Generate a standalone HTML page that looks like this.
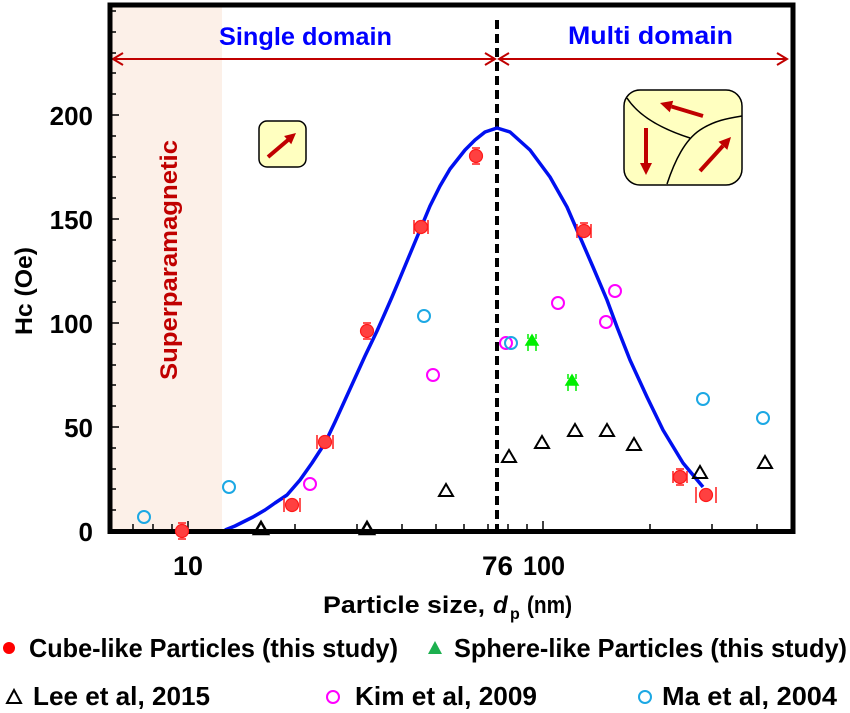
<!DOCTYPE html>
<html><head><meta charset="utf-8"><style>
html,body{margin:0;padding:0;background:#fff;}
svg{display:block;}
text{font-family:"Liberation Sans",Arial,sans-serif;font-weight:bold;}
</style></head><body>
<svg width="850" height="713" viewBox="0 0 850 713" xmlns="http://www.w3.org/2000/svg">
<rect x="0" y="0" width="850" height="713" fill="#fff"/>
<!-- superparamagnetic shading -->
<rect x="112" y="7" width="110" height="522" fill="#fcf0e8"/>
<text transform="translate(177,380) rotate(-90)" font-size="24" fill="#c00000" textLength="240" lengthAdjust="spacingAndGlyphs">Superparamagnetic</text>

<!-- region labels -->
<text x="219" y="45" font-size="25" fill="#0000ff" textLength="173" lengthAdjust="spacingAndGlyphs">Single domain</text>
<text x="568" y="44" font-size="25" fill="#0000ff" textLength="165" lengthAdjust="spacingAndGlyphs">Multi domain</text>

<!-- arrows -->
<g stroke="#c00000" stroke-width="2" fill="none">
<line x1="113" y1="59" x2="495" y2="59"/>
<polyline points="123,53 113,59 123,65"/>
<polyline points="485,53 495,59 485,65"/>
<line x1="499" y1="59" x2="787" y2="59"/>
<polyline points="509,53 499,59 509,65"/>
<polyline points="777,53 787,59 777,65"/>
</g>

<!-- dashed line -->
<line x1="497" y1="20" x2="497" y2="529" stroke="#000" stroke-width="4" stroke-dasharray="9,5"/>

<!-- small inset -->
<rect x="259" y="121" width="47" height="46" rx="8" fill="#ffffc0" stroke="#000" stroke-width="1.5"/>
<line x1="268" y1="157" x2="288" y2="140" stroke="#c00000" stroke-width="4"/>
<polygon points="296,133 291.2,144.3 284.1,136" fill="#c00000"/>

<!-- big inset -->
<rect x="624" y="90" width="118" height="95" rx="16" fill="#ffffc0" stroke="#000" stroke-width="1.5"/>
<path d="M627,98 C640,118 665,130 690,138" stroke="#000" stroke-width="1.5" fill="none"/>
<path d="M667,184 C675,160 685,140 700,130 C715,120 730,118 742,116" stroke="#000" stroke-width="1.5" fill="none"/>
<line x1="703" y1="116" x2="671.5" y2="106.5" stroke="#c00000" stroke-width="4"/>
<polygon points="660,103 673.2,100.8 669.8,112.2" fill="#c00000"/>
<line x1="646" y1="128" x2="646" y2="163" stroke="#c00000" stroke-width="4"/>
<polygon points="646,175 640,163 652,163" fill="#c00000"/>
<line x1="700" y1="171" x2="722.9" y2="145.9" stroke="#c00000" stroke-width="4"/>
<polygon points="731,137 727.3,149.9 718.5,141.8" fill="#c00000"/>

<!-- fit curve -->
<polyline fill="none" stroke="#0010f0" stroke-width="3.5" stroke-linejoin="round" points="225,530 235,526 245,521 253,517 265,510 275,503 287,495 300,480 312,463 325,443 335,422 345,400 355,378 365,356 377,331 385,313 392,297 400,278 410,254 420,230 430,206 440,186 450,169 465,150 475,140 485,132 497,128 510,132 530,150 550,177 567,207 580,237 593,267 607,300 617,327 630,360 647,397 663,430 683,463 703,487"/>

<!-- frame -->
<rect x="110" y="5" width="683" height="526.5" fill="none" stroke="#000" stroke-width="5"/>

<!-- y ticks -->
<g stroke="#000" stroke-width="1.5">
<line x1="112" y1="427" x2="119" y2="427"/>
<line x1="112" y1="323" x2="119" y2="323"/>
<line x1="112" y1="219" x2="119" y2="219"/>
<line x1="112" y1="115" x2="119" y2="115"/>
<line x1="112" y1="510" x2="116" y2="510"/>
<line x1="112" y1="489" x2="116" y2="489"/>
<line x1="112" y1="469" x2="116" y2="469"/>
<line x1="112" y1="448" x2="116" y2="448"/>
<line x1="112" y1="406" x2="116" y2="406"/>
<line x1="112" y1="385" x2="116" y2="385"/>
<line x1="112" y1="365" x2="116" y2="365"/>
<line x1="112" y1="344" x2="116" y2="344"/>
<line x1="112" y1="302" x2="116" y2="302"/>
<line x1="112" y1="281" x2="116" y2="281"/>
<line x1="112" y1="261" x2="116" y2="261"/>
<line x1="112" y1="240" x2="116" y2="240"/>
<line x1="112" y1="198" x2="116" y2="198"/>
<line x1="112" y1="177" x2="116" y2="177"/>
<line x1="112" y1="157" x2="116" y2="157"/>
<line x1="112" y1="136" x2="116" y2="136"/>
<line x1="112" y1="94" x2="116" y2="94"/>
<line x1="112" y1="73" x2="116" y2="73"/>
<line x1="112" y1="53" x2="116" y2="53"/>
<line x1="112" y1="32" x2="116" y2="32"/>
<line x1="112" y1="11" x2="116" y2="11"/>
</g>
<!-- x ticks -->
<g stroke="#000" stroke-width="1.5">
<line x1="133" y1="529" x2="133" y2="524"/>
<line x1="153" y1="529" x2="153" y2="524"/>
<line x1="172" y1="529" x2="172" y2="524"/>
<line x1="188" y1="529" x2="188" y2="521"/>
<line x1="295" y1="529" x2="295" y2="524"/>
<line x1="357" y1="529" x2="357" y2="524"/>
<line x1="402" y1="529" x2="402" y2="524"/>
<line x1="436" y1="529" x2="436" y2="524"/>
<line x1="464" y1="529" x2="464" y2="524"/>
<line x1="488" y1="529" x2="488" y2="524"/>
<line x1="508" y1="529" x2="508" y2="524"/>
<line x1="527" y1="529" x2="527" y2="524"/>
<line x1="543" y1="529" x2="543" y2="521"/>
<line x1="650" y1="529" x2="650" y2="524"/>
<line x1="712" y1="529" x2="712" y2="524"/>
<line x1="757" y1="529" x2="757" y2="524"/>
</g>

<!-- y labels -->
<g font-size="26" text-anchor="end" fill="#000">
<text x="93" y="541">0</text>
<text x="93" y="437">50</text>
<text x="93" y="333">100</text>
<text x="93" y="229">150</text>
<text x="93" y="125">200</text>
</g>
<text transform="translate(32,335) rotate(-90)" font-size="24" textLength="88" lengthAdjust="spacingAndGlyphs">Hc (Oe)</text>

<!-- x labels -->
<g font-size="27" fill="#000">
<text x="173" y="575" textLength="30" lengthAdjust="spacingAndGlyphs">10</text>
<text x="482" y="575" textLength="31" lengthAdjust="spacingAndGlyphs">76</text>
<text x="523" y="575" textLength="42" lengthAdjust="spacingAndGlyphs">100</text>
</g>
<g font-size="24" fill="#000">
<text x="323" y="613" textLength="162" lengthAdjust="spacingAndGlyphs">Particle size,</text>
<text x="493" y="613" font-style="italic">d</text>
<text x="510" y="619" font-size="16">p</text>
<text x="527" y="613" textLength="45" lengthAdjust="spacingAndGlyphs">(nm)</text>
</g>

<!-- Lee triangles -->
<g fill="none" stroke="#000" stroke-width="2">
<polygon points="261,522 254,534 268,534" stroke-width="2.5"/>
<polygon points="367,522 360,534 374,534" stroke-width="2.5"/>
<polygon points="446,484 439,496 453,496"/>
<polygon points="509,450 502,462 516,462"/>
<polygon points="542,436 535,448 549,448"/>
<polygon points="575,424 568,436 582,436"/>
<polygon points="607,424 600,436 614,436"/>
<polygon points="634,438 627,450 641,450"/>
<polygon points="700,466 693,478 707,478"/>
<polygon points="765,456 758,468 772,468"/>
</g>

<!-- Kim circles -->
<g fill="none" stroke="#ff00ff" stroke-width="2">
<circle cx="310" cy="484" r="6"/>
<circle cx="433" cy="375" r="6"/>
<circle cx="506" cy="343" r="6"/>
<circle cx="558" cy="303" r="6"/>
<circle cx="606" cy="322" r="6"/>
<circle cx="615" cy="291" r="6"/>
</g>
<!-- Ma circles -->
<g fill="none" stroke="#1ca8e4" stroke-width="2">
<circle cx="144" cy="517" r="6"/>
<circle cx="229" cy="487" r="6"/>
<circle cx="424" cy="316" r="6"/>
<circle cx="511" cy="343" r="6"/>
<circle cx="703" cy="399" r="6"/>
<circle cx="763" cy="418" r="6"/>
</g>

<!-- Sphere-like green -->
<g fill="#00ee00" stroke="#00ee00" stroke-width="1.5">
<polygon points="532,335 526,345 538,345"/>
<line x1="528" y1="345" x2="528" y2="351"/><line x1="536" y1="345" x2="536" y2="351"/>
<line x1="528" y1="334" x2="528" y2="339"/><line x1="536" y1="334" x2="536" y2="339"/>
<polygon points="572,375 566,385 578,385"/>
<line x1="568" y1="385" x2="568" y2="391"/><line x1="576" y1="385" x2="576" y2="391"/>
<line x1="568" y1="374" x2="568" y2="379"/><line x1="576" y1="374" x2="576" y2="379"/>
</g>

<!-- Cube-like red -->
<g fill="#ff4040" stroke="#ff1a1a" stroke-width="1.2">
<circle cx="182" cy="531" r="6.5"/>
<circle cx="292" cy="505" r="6.5"/>
<circle cx="325" cy="442" r="6.5"/>
<circle cx="367" cy="331" r="6.5"/>
<circle cx="421" cy="227" r="6.5"/>
<circle cx="476" cy="156" r="6.5"/>
<circle cx="584" cy="231" r="6.5"/>
<circle cx="680" cy="477" r="6.5"/>
<circle cx="706" cy="495" r="6.5"/>
</g>
<g stroke="#ff1a1a" stroke-width="1.5" fill="none">
<path d="M178,523h8M178,539h8"/>
<path d="M284,498v14M300,498v14"/>
<path d="M317,435v14M333,435v14"/>
<path d="M363,323h8M363,339h8"/>
<path d="M414,220v14M428,220v14"/>
<path d="M472,148h8M472,164h8"/>
<path d="M577,224v14M591,224v14M580,223h8"/>
<path d="M676,469h8M676,485h8M673,471v12M687,471v12"/>
<path d="M696,487v16M716,487v16"/>
</g>

<!-- legend -->
<circle cx="9" cy="648" r="6" fill="#ff0000"/>
<text x="29" y="657" font-size="26" textLength="369" lengthAdjust="spacingAndGlyphs">Cube-like Particles (this study)</text>
<polygon points="435,641 428,654 442,654" fill="#1db04f"/>
<text x="454" y="657" font-size="26" textLength="393" lengthAdjust="spacingAndGlyphs">Sphere-like Particles (this study)</text>
<polygon points="14,690 7,703 21,703" fill="none" stroke="#000" stroke-width="2"/>
<text x="33" y="705" font-size="26" textLength="177" lengthAdjust="spacingAndGlyphs">Lee et al, 2015</text>
<circle cx="333" cy="697" r="6" fill="none" stroke="#ff00ff" stroke-width="2"/>
<text x="355" y="705" font-size="26" textLength="182" lengthAdjust="spacingAndGlyphs">Kim et al, 2009</text>
<circle cx="645" cy="697" r="6" fill="none" stroke="#1ca8e4" stroke-width="2"/>
<text x="662" y="705" font-size="26" textLength="175" lengthAdjust="spacingAndGlyphs">Ma et al, 2004</text>
</svg>
</body></html>
